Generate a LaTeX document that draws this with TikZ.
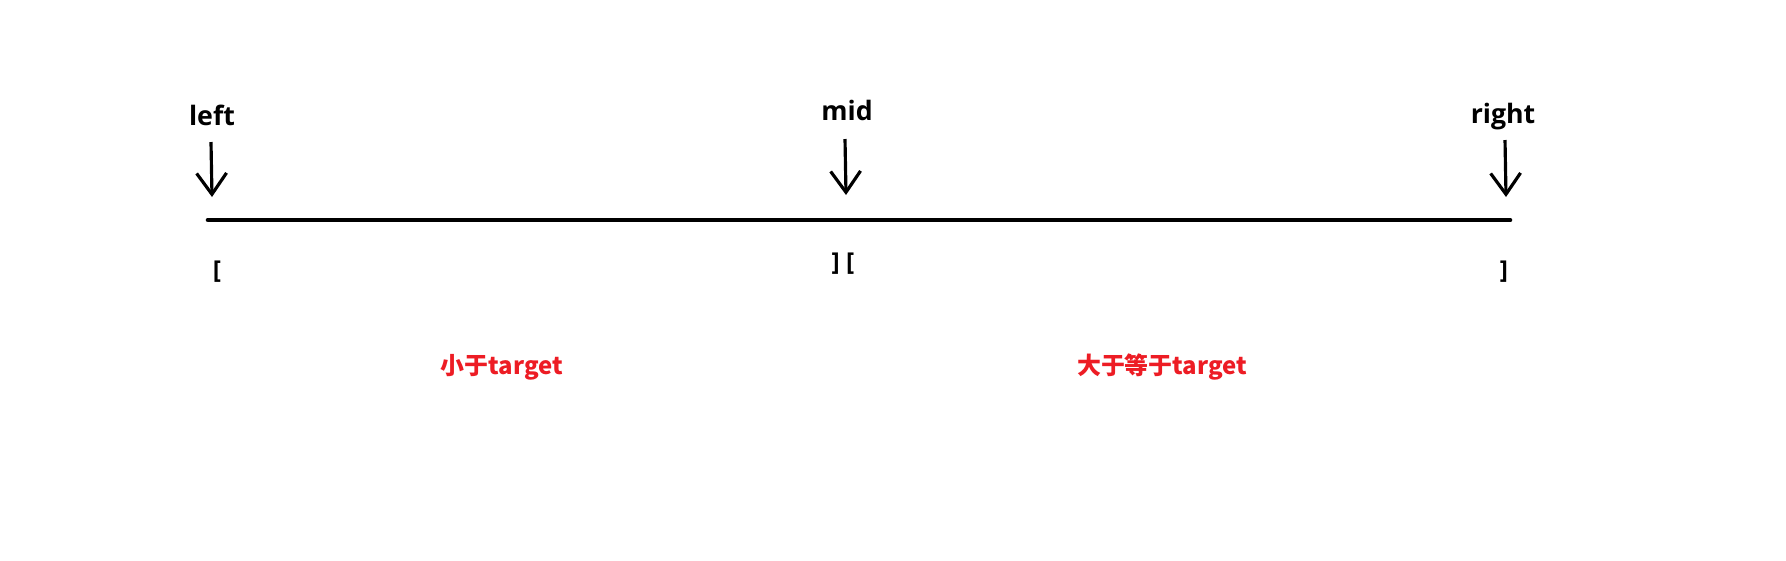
\documentclass[tikz,border=0pt]{standalone}
\usepackage{fontspec}
\setmainfont{Open Sans}
\newfontfamily\cjk{Noto Sans CJK SC}
\usetikzlibrary{arrows.meta}
\definecolor{paintred}{RGB}{237,28,36}

\begin{document}
\begin{tikzpicture}[x=0.01cm,y=-0.01cm,
    ptrname/.style={font=\fontsize{7.6}{9}\selectfont\bfseries,anchor=base},
    bracket/.style={font=\fontsize{7}{8}\selectfont\bfseries},
    ptr/.style={line width=0.9pt,-{Straight Barb[length=6pt,width=8.5pt,line width=0.9pt]}},
    zone/.style={text=paintred,font=\cjk\fontsize{6.8}{8}\selectfont\bfseries,anchor=base}]

      \useasboundingbox[fill=white] (0,0) rectangle (1786,560);

      % the array
      \coordinate (lo) at (208,220);
      \coordinate (hi) at (1510,220);
      \draw[line width=1.3pt,line cap=round] (lo) -- (hi);

      % the three pointers
      \node[ptrname] (left) at (212,125) {left};
      \coordinate (lefttip) at (212,197);
      \draw[ptr] (left.base) ++(-1,17) -- (lefttip);

      \node[ptrname] (mid) at (847,120) {mid};
      \coordinate (midtip) at (846,195);
      \draw[ptr] (mid.base) ++(-2,19) -- (midtip);

      \node[ptrname] (right) at (1503,123) {right};
      \coordinate (righttip) at (1506,197);
      \draw[ptr] (right.base) ++(2,17) -- (righttip);

      % interval ends
      \node[bracket] (lb) at (217,272) {[};
      \node[bracket] (mb) at (843,264) {] [};
      \node[bracket] (rb) at (1504,272) {]};

      % the two halves
      \node[zone] (lower) at (502,374) {小于target};
      \node[zone] (upper) at (1162,374) {大于等于target};

\end{tikzpicture}
\end{document}
